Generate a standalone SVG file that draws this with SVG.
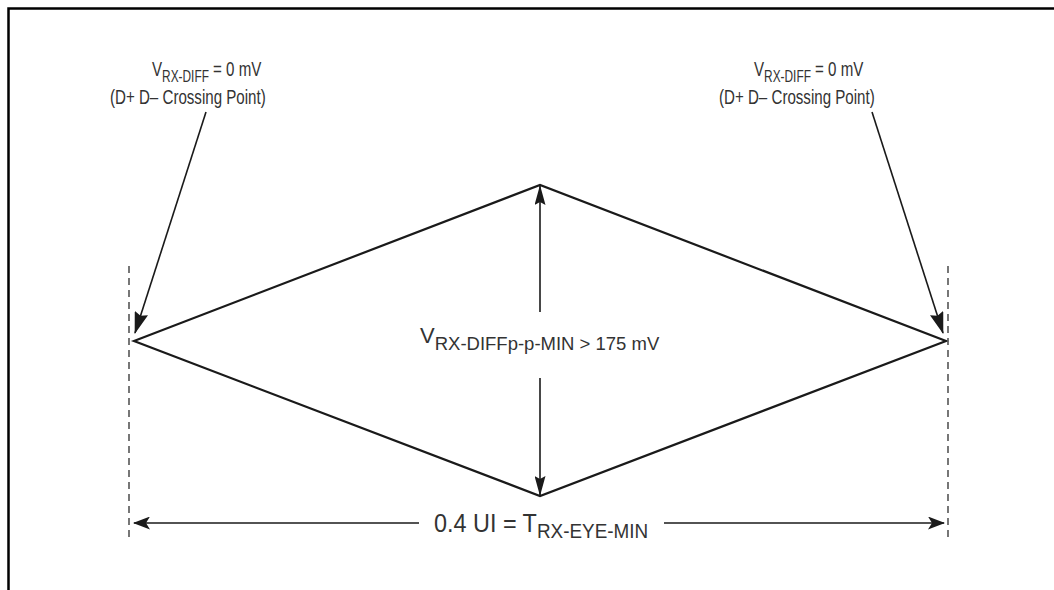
<svg xmlns="http://www.w3.org/2000/svg" width="1054" height="590" viewBox="0 0 1054 590">
<style>
.t{font-family:"Liberation Sans",Arial,sans-serif;fill:#333;font-size:21px}
.s{font-size:16.5px}
.m{font-size:22px}
.ms{font-size:18.5px}
.b{font-size:26px}
.bs{font-size:21px}
.ln{stroke:#1a1a1a;stroke-width:2.2;fill:none}
.ar{stroke:#1a1a1a;stroke-width:1.6;fill:none}
.ds{stroke:#555;stroke-width:1.6;stroke-dasharray:7 5;fill:none}
</style>
<defs>
<marker id="ah" viewBox="0 0 22 14" refX="21" refY="7" markerWidth="22" markerHeight="14" markerUnits="userSpaceOnUse" orient="auto-start-reverse">
<path d="M0,0 L22,7 L0,14 L3,7 Z" fill="#1a1a1a"/>
</marker>
<marker id="av" viewBox="0 0 20 11" refX="19" refY="5.5" markerWidth="20" markerHeight="11" markerUnits="userSpaceOnUse" orient="auto-start-reverse">
<path d="M0,0 L20,5.5 L0,11 L3,5.5 Z" fill="#1a1a1a"/>
</marker>
<marker id="ab" viewBox="0 0 17 13" refX="16" refY="6.5" markerWidth="17" markerHeight="13" markerUnits="userSpaceOnUse" orient="auto-start-reverse">
<path d="M0,0 L17,6.5 L0,13 L4,6.5 Z" fill="#1a1a1a"/>
</marker>
</defs>
<rect x="0" y="0" width="1054" height="590" fill="#fff"/>
<g id="border">
<path d="M8.5,590 V8.5 H1054" stroke="#000" stroke-width="2.5" fill="none"/>
</g>
<g id="eye">
<polygon class="ln" points="134,341 540,185 946,341 540,496"/>
</g>
<g id="guides">
<line class="ds" x1="129" y1="266" x2="129" y2="542"/>
<line class="ds" x1="948" y1="266" x2="948" y2="542"/>
</g>
<g id="connectors">
<line class="ar" x1="206" y1="112" x2="135" y2="333" marker-end="url(#ah)"/>
<line class="ar" x1="872" y1="112" x2="943" y2="333" marker-end="url(#ah)"/>
<line class="ar" x1="540" y1="312" x2="540" y2="186" marker-end="url(#av)"/>
<line class="ar" x1="540" y1="378" x2="540" y2="495" marker-end="url(#av)"/>
<line class="ar" x1="419" y1="523" x2="134" y2="523" marker-end="url(#ab)"/>
<line class="ar" x1="664" y1="523" x2="944" y2="523" marker-end="url(#ab)"/>
</g>
<g id="label-left">
<g transform="translate(152,76) scale(0.72,1)"><text class="t" x="0" y="0">V<tspan class="s" dy="6">RX-DIFF</tspan><tspan dy="-6"> = 0 mV</tspan></text></g>
<g transform="translate(110,104) scale(0.72,1)"><text class="t" x="0" y="0">(D+ D– Crossing Point)</text></g>
</g>
<g id="label-right">
<g transform="translate(754,76) scale(0.72,1)"><text class="t" x="0" y="0">V<tspan class="s" dy="6">RX-DIFF</tspan><tspan dy="-6"> = 0 mV</tspan></text></g>
<g transform="translate(719,104) scale(0.72,1)"><text class="t" x="0" y="0">(D+ D– Crossing Point)</text></g>
</g>
<g id="label-mid">
<text class="t m" x="420" y="343">V<tspan class="ms" dy="7">RX-DIFFp-p-MIN &gt; 175 mV</tspan></text>
</g>
<g id="label-bottom">
<g transform="translate(434,532) scale(0.9,1)"><text class="t b" x="0" y="0">0.4 UI = T<tspan class="bs" dy="6">RX-EYE-MIN</tspan></text></g>
</g>
</svg>
